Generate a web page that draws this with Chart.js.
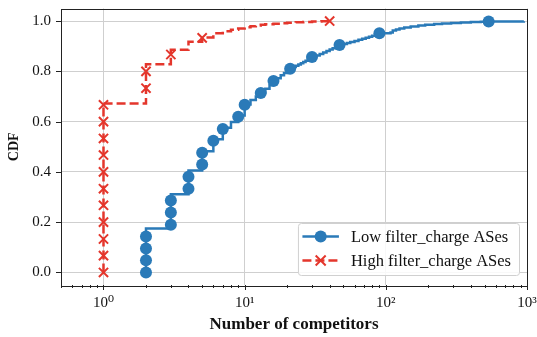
<!DOCTYPE html>
<html><head><meta charset="utf-8">
<script src="https://cdn.jsdelivr.net/npm/chart.js@4"></script>
<style>html,body{margin:0;padding:0;background:#fff}</style>
</head><body>
<canvas id="c" width="537" height="337" style="display:block;width:537px;height:337px"></canvas>
<script>
// ---- data ----
const lowLabel = 'Low filter_charge ASes';
const highLabel = 'High filter_charge ASes';

// markers (every n-th sample of the ECDF)
const lowMarkX = [2,2,2,2,3,3,3,4,4,5,5,6,7,9,10,13,16,21,30,47,90,535];
const lowMarkY = [0,0.048,0.095,0.143,0.190,0.238,0.286,0.333,0.381,0.429,0.476,0.524,0.571,0.619,0.667,0.714,0.762,0.810,0.857,0.905,0.952,0.998];

// ECDF step line
const lowStepX = [2,2,3,4,5,6,7,8,9,10,11,12,13,14,15,16,17,18,19,20,21,22,23,24,25,26,27,28,29,30,32,34,36,38,40,42,44,46,48,50,53,56,60,64,68,72,76,80,85,90,108,112,118,125,135,150,170,190,220,250,290,340,400,470,535,950];
const lowStepY = [0,0.175,0.311,0.406,0.482,0.530,0.576,0.598,0.624,0.668,0.686,0.700,0.716,0.731,0.746,0.762,0.773,0.784,0.793,0.802,0.812,0.817,0.822,0.827,0.832,0.837,0.842,0.847,0.852,0.857,0.863,0.869,0.875,0.881,0.887,0.892,0.897,0.902,0.906,0.909,0.913,0.917,0.921,0.926,0.930,0.934,0.938,0.942,0.947,0.952,0.955,0.962,0.966,0.970,0.974,0.978,0.982,0.985,0.988,0.990,0.992,0.994,0.996,0.997,0.998,0.999];

const highMarkX = [1,1,1,1,1,1,1,1,1,1,1,2,2,3,5,40];
const highMarkY = [0,0.067,0.133,0.200,0.267,0.333,0.400,0.467,0.533,0.600,0.667,0.733,0.800,0.867,0.933,1.000];

const highStepX = [1,1,2,3,4,5,6,7,8,9,10,11,12,13,14,16,18,20,23,26,30,35,40];
const highStepY = [0,0.672,0.828,0.886,0.918,0.935,0.952,0.959,0.965,0.970,0.975,0.979,0.982,0.985,0.987,0.989,0.991,0.993,0.995,0.996,0.998,0.999,1.000];

// axes
const xMajorTicks = [1,10,100,1000];
const xTickLabels = ['10\u2070','10\u00B9','10\u00B2','10\u00B3'];
const xMinorMult = [2,3,4,5,6,7,8,9];
const xMinorDecades = [0.1,1,10,100];
const yTicks = [0,0.2,0.4,0.6,0.8,1.0];
const yTickLabels = ['0.0','0.2','0.4','0.6','0.8','1.0'];
const xTitle = 'Number of competitors';
const yTitle = 'CDF';

// ---- style ----
const BLUE = '#2a7ab8';
const RED = '#e4362c';
const FONT = "'Liberation Serif', 'DejaVu Serif', serif";
const TXT = '#111';

const pts = (xs, ys) => xs.map((x, i) => ({x: x, y: ys[i]}));

const framePlugin = {
  id: 'frame',
  afterDatasetsDraw(chart) {
    const g = chart.ctx, a = chart.chartArea;
    const xs = chart.scales.x, ys = chart.scales.y;
    g.save();
    g.strokeStyle = '#222';
    g.lineWidth = 1;
    g.beginPath();
    xMajorTicks.forEach(v => {
      const px = Math.round(xs.getPixelForValue(v)) + 0.5;
      g.moveTo(px, a.bottom); g.lineTo(px, a.bottom + 5);
    });
    xMinorDecades.forEach(d => xMinorMult.forEach(m => {
      const v = d * m;
      if (v < xs.min || v > xs.max) return;
      const px = Math.round(xs.getPixelForValue(v)) + 0.5;
      g.moveTo(px, a.bottom); g.lineTo(px, a.bottom + 3);
    }));
    yTicks.forEach(v => {
      const py = Math.round(ys.getPixelForValue(v)) + 0.5;
      g.moveTo(a.left, py); g.lineTo(a.left - 5, py);
    });
    g.stroke();
    g.strokeRect(Math.round(a.left) + 0.5, Math.round(a.top) + 0.5,
                 Math.round(a.right - a.left), Math.round(a.bottom - a.top));
    g.restore();
  },
  afterDraw(chart) {
    const g = chart.ctx, a = chart.chartArea;
    g.save();
    g.font = '16.5px ' + FONT;
    const labels = [lowLabel, highLabel];
    const tw = Math.max(...labels.map(t => g.measureText(t).width));
    const w = 53 + tw + 8, h = 52;
    const x0 = a.right - 8 - w, y0 = a.bottom - 10 - h;
    g.beginPath();
    g.roundRect(x0 + 0.5, y0 + 0.5, w, h, 3);
    g.fillStyle = 'rgba(255,255,255,0.85)';
    g.fill();
    g.strokeStyle = '#d0d0d0';
    g.lineWidth = 1;
    g.stroke();
    const rows = [y0 + 13.5, y0 + 37.5];
    const lx0 = x0 + 4.5, lx1 = x0 + 41, lc = (lx0 + lx1) / 2;
    g.strokeStyle = BLUE; g.lineWidth = 2.5; g.setLineDash([]);
    g.beginPath(); g.moveTo(lx0, rows[0]); g.lineTo(lx1, rows[0]); g.stroke();
    g.fillStyle = BLUE; g.beginPath(); g.arc(lc, rows[0], 6, 0, Math.PI * 2); g.fill();
    g.strokeStyle = RED; g.setLineDash([9, 4]);
    g.beginPath(); g.moveTo(lx0, rows[1]); g.lineTo(lx1, rows[1]); g.stroke();
    g.setLineDash([]); g.lineWidth = 2;
    const r = 5;
    g.beginPath();
    g.moveTo(lc - r, rows[1] - r); g.lineTo(lc + r, rows[1] + r);
    g.moveTo(lc + r, rows[1] - r); g.lineTo(lc - r, rows[1] + r);
    g.stroke();
    g.fillStyle = TXT; g.textBaseline = 'middle'; g.textAlign = 'left';
    g.fillText(labels[0], x0 + 53, rows[0] + 1);
    g.fillText(labels[1], x0 + 53, rows[1] + 1);
    g.restore();
  }
};

new Chart(document.getElementById('c'), {
  type: 'scatter',
  data: {
    datasets: [
      { label: highLabel, data: pts(highMarkX, highMarkY), showLine: false,
        pointStyle: 'crossRot', pointRadius: 6.5, pointBorderWidth: 2,
        borderColor: RED, backgroundColor: RED, pointHoverRadius: 6.5 },
      { label: highLabel + ' line', data: pts(highStepX, highStepY), showLine: true,
        stepped: true, borderColor: RED, borderWidth: 2.5, borderDash: [9, 4],
        pointRadius: 0, fill: false },
      { label: lowLabel, data: pts(lowMarkX, lowMarkY), showLine: false,
        pointStyle: 'circle', pointRadius: 6, pointBorderWidth: 0,
        borderColor: BLUE, backgroundColor: BLUE },
      { label: lowLabel + ' line', data: pts(lowStepX, lowStepY), showLine: true,
        stepped: true, borderColor: BLUE, borderWidth: 2.5,
        pointRadius: 0, fill: false }
    ]
  },
  options: {
    responsive: false, animation: false, devicePixelRatio: 1,
    layout: { padding: { top: 6, right: 10, left: 0, bottom: 0 } },
    plugins: { legend: { display: false }, tooltip: { enabled: false } },
    scales: {
      x: {
        type: 'logarithmic', min: 0.5, max: 1000,
        afterBuildTicks: s => { s.ticks = xMajorTicks.map(v => ({ value: v, major: true })); },
        afterFit: s => { s.height = 52; s.paddingLeft = 0; s.paddingRight = 0; },
        ticks: { autoSkip: false, maxRotation: 0, padding: 9, color: TXT,
                 font: { family: FONT, size: 15 },
                 callback: (v, i) => xTickLabels[i] },
        grid: { color: '#cfcfcf', lineWidth: 1, drawTicks: false },
        border: { display: false },
        title: { display: true, text: xTitle, color: TXT,
                 font: { family: FONT, size: 17, weight: 'bold' }, padding: { top: 0, bottom: 2 } }
      },
      y: {
        min: -0.05, max: 1.05,
        afterBuildTicks: s => { s.ticks = yTicks.map(v => ({ value: v })); },
        afterFit: s => { s.width = 61; s.paddingTop = 0; s.paddingBottom = 0; },
        ticks: { autoSkip: false, padding: 10, color: TXT,
                 font: { family: FONT, size: 15 },
                 callback: (v, i) => yTickLabels[i] },
        grid: { color: '#cfcfcf', lineWidth: 1, drawTicks: false },
        border: { display: false },
        title: { display: true, text: yTitle, color: TXT,
                 font: { family: FONT, size: 14, weight: 'bold' }, padding: { top: 6, bottom: 0 } }
      }
    }
  },
  plugins: [framePlugin]
});
</script>
</body></html>
